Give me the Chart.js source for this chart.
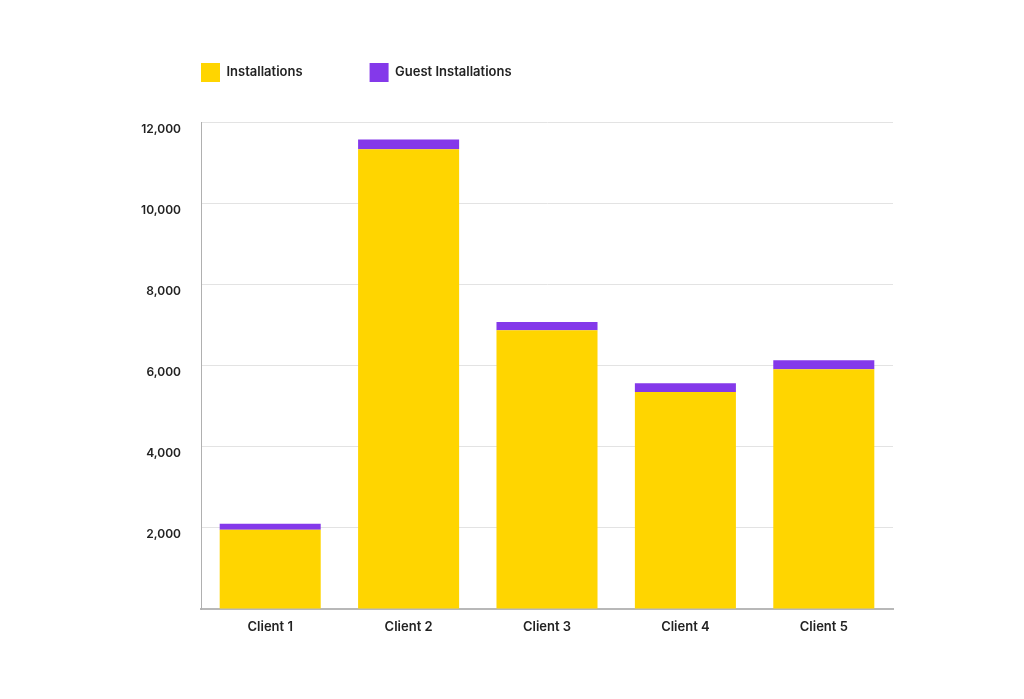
<!DOCTYPE html>
<html>
<head>
<meta charset="utf-8">
<script src="https://cdn.jsdelivr.net/npm/chart.js@4/dist/chart.umd.min.js"></script>
<style>
  html, body { margin: 0; padding: 0; background: #ffffff; }
  #wrap { width: 1024px; height: 699px; position: relative; }
</style>
</head>
<body>
<div id="wrap"><canvas id="c"></canvas></div>
<script>
const categories = ['Client 1', 'Client 2', 'Client 3', 'Client 4', 'Client 5'];
const installations = [1950, 11330, 6870, 5350, 5910];
const guestInstallations = [150, 240, 200, 215, 220];
const seriesNames = ['Installations', 'Guest Installations'];
const yMax = 12000;
const yStep = 2000;

const FONT = "Inter, 'Noto Sans', sans-serif";
const LEGEND_PAD = 67;

const legendPlacer = {
  id: 'legendPlacer',
  afterLayout(chart) {
    const lg = chart.legend;
    if (!lg) return;
    const left = chart.chartArea.left - LEGEND_PAD;
    const top = 63 - LEGEND_PAD;
    lg.left = left;
    lg.right = left + 820;
    lg.top = top;
    lg.bottom = top + 120;
    lg.width = 820;
    lg.height = 120;
  }
};

new Chart(document.getElementById('c'), {
  type: 'bar',
  data: {
    labels: categories,
    datasets: [
      { label: seriesNames[0], data: installations, backgroundColor: '#FFD500', borderWidth: 0 },
      { label: seriesNames[1], data: guestInstallations, backgroundColor: '#8439EA', borderWidth: 0 }
    ]
  },
  options: {
    responsive: true,
    maintainAspectRatio: false,
    animation: false,
    layout: { padding: { left: 100, right: 131, top: 26, bottom: 50 } },
    datasets: { bar: { categoryPercentage: 1, barPercentage: 0.73 } },
    plugins: {
      legend: {
        position: 'top',
        align: 'start',
        labels: {
          boxWidth: 19,
          boxHeight: 19,
          padding: LEGEND_PAD,
          color: '#222222',
          font: { family: FONT, size: 13, weight: '600' }
        }
      },
      tooltip: { enabled: false }
    },
    scales: {
      x: {
        stacked: true,
        grid: { display: false, drawTicks: false },
        border: { display: true, color: '#b8b8b8', width: 2 },
        ticks: { padding: 10, color: '#222222', font: { family: FONT, size: 13, weight: '600' } },
        afterFit(scale) { scale.height = 40; }
      },
      y: {
        stacked: true,
        min: 0,
        max: yMax,
        grid: { color: '#e3e3e3', lineWidth: 1, drawTicks: false },
        border: { display: true, color: '#b0b0b0', width: 1 },
        ticks: {
          stepSize: yStep,
          padding: 20,
          labelOffset: 7,
          color: '#222222',
          font: { family: FONT, size: 12, weight: '600' },
          callback: (v) => v === 0 ? '' : Number(v).toLocaleString('en-US')
        },
        afterFit(scale) { scale.width = 101; }
      }
    }
  },
  plugins: [legendPlacer]
});
</script>
</body>
</html>
